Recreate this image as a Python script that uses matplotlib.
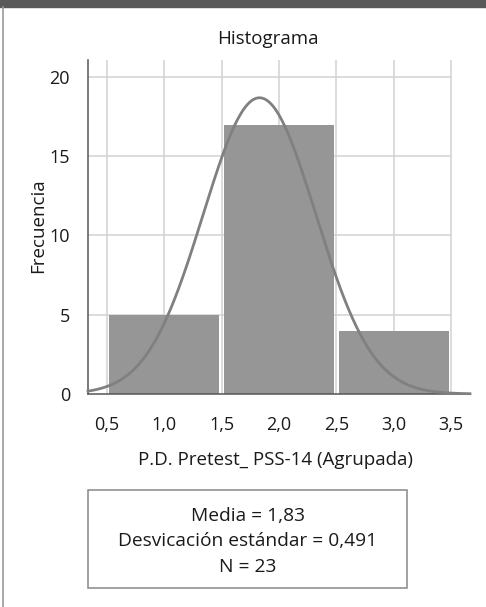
#!/usr/bin/env python3

import numpy as np
from matplotlib import pyplot as plt
from matplotlib.patches import Rectangle
from matplotlib.lines import Line2D

# Data
bin_centers = [1.0, 2.0, 3.0]
frequencies = [5, 17, 4]
media = 1.83
desv = 0.491
n_total = 23
bin_width = 1.0

x_ticks = [0.5, 1.0, 1.5, 2.0, 2.5, 3.0, 3.5]
x_tick_labels = ["0,5", "1,0", "1,5", "2,0", "2,5", "3,0", "3,5"]
y_ticks = [0, 5, 10, 15, 20]

plt.rcParams['font.family'] = ['Open Sans', 'DejaVu Sans']

W, H = 486, 607
fig = plt.figure(figsize=(W / 100, H / 100), dpi=100)

# page decorations: dark header strip and left border
fig.patches.append(Rectangle((0, 1 - 7 / H), 1, 7 / H, transform=fig.transFigure,
                             color="#595959", zorder=0))
fig.lines.append(Line2D([3 / W, 3 / W], [0, 1 - 7 / H], transform=fig.transFigure,
                        color="#9a9a9a", lw=1.2))

ax = fig.add_axes([88 / W, 1 - 394 / H, (470 - 88) / W, (394 - 60) / H])
ax.set_xlim(0.334, 3.666)
ax.set_ylim(0, 21.07)

# grid: vertical lines at ticks, horizontal lines only up to 3.5
for xv in x_ticks:
    ax.axvline(xv, color="#d2d2d2", lw=1.1, zorder=0)
for yv in y_ticks[1:]:
    ax.hlines(yv, 0.334, 3.5, color="#d2d2d2", lw=1.1, zorder=0)

ax.bar(bin_centers, frequencies, width=0.96, color="#969696", zorder=2)

xs = np.linspace(0.334, 3.666, 400)
pdf = n_total * bin_width / (desv * np.sqrt(2 * np.pi)) * np.exp(-0.5 * ((xs - media) / desv) ** 2)
ax.plot(xs, pdf, color="#808080", lw=2, zorder=3, clip_on=False)

ax.set_xticks(x_ticks)
ax.set_xticklabels(x_tick_labels)
ax.set_yticks(y_ticks)
ax.tick_params(axis="both", length=0, labelsize=13, colors="#1a1a1a")
ax.tick_params(axis="x", pad=16)
ax.tick_params(axis="y", pad=13)

for s in ["top", "right"]:
    ax.spines[s].set_visible(False)
for s in ["left", "bottom"]:
    ax.spines[s].set_color("#555555")
    ax.spines[s].set_linewidth(1.1)

fs = 13.5
fig.text(268 / W, 1 - 39 / H, "Histograma", ha="center", va="center", fontsize=fs,
         color="#1a1a1a")
fig.text(38 / W, 1 - 226 / H, "Frecuencia", ha="center", va="center",
         rotation=90, fontsize=fs, color="#1a1a1a")
fig.text(276 / W, 1 - 460 / H, "P.D. Pretest_ PSS-14 (Agrupada)", ha="center",
         va="center", fontsize=fs, color="#1a1a1a")

# statistics box
fig.patches.append(Rectangle((88 / W, 1 - 588 / H), (407 - 88) / W, (588 - 490) / H,
                             transform=fig.transFigure, fill=False,
                             edgecolor="#888888", lw=1.1))
stats_lines = [f"Media = {media:.2f}".replace(".", ","),
               f"Desvicación estándar = {desv:.3f}".replace(".", ","),
               f"N = {n_total}"]
for i, t in enumerate(stats_lines):
    fig.text(248 / W, 1 - (516 + 25.5 * i) / H, t, ha="center", va="center",
             fontsize=13.8, color="#1a1a1a")

fig.savefig("out.png", dpi=100)
